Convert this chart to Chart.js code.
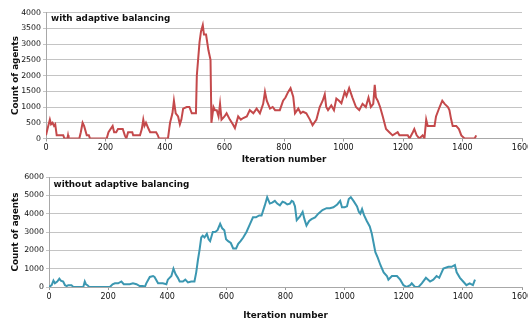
<!DOCTYPE html>
<html>
<head>
<meta charset="utf-8">
<script src="https://cdn.jsdelivr.net/npm/chart.js@4/dist/chart.umd.min.js"></script>
<style>
html,body{margin:0;padding:0;background:#fff;}
canvas{display:block;}
</style>
</head>
<body>
<canvas id="c1" width="528" height="165"></canvas>
<canvas id="c2" width="528" height="159"></canvas>
<script>
const xTicks = [0, 200, 400, 600, 800, 1000, 1200, 1400, 1600];
const yTicksTop = [0, 500, 1000, 1500, 2000, 2500, 3000, 3500, 4000];
const yTicksBottom = [0, 1000, 2000, 3000, 4000, 5000, 6000];

const titleTop = "with adaptive balancing";
const titleBottom = "without adaptive balancing";
const xTitle = "Iteration number";
const yTitle = "Count of agents";

const withIter = [0,5,13,17,22,27,31,36,58,62,72,74,76,112,117,123,128,137,144,148,204,210,224,229,236,242,258,265,270,276,290,293,316,322,327,331,336,345,350,370,376,380,
410,417,425,430,436,444,450,455,461,473,482,490,504,507,516,521,527,531,538,546,553,556,563,568,574,580,585,590,600,607,618,628,635,646,655,663,675,685,697,708,719,730,736,742,753,762,770,786,797,805,814,822,831,837,848,856,864,875,887,896,909,920,930,937,942,948,959,968,976,985,993,1004,1010,1019,
1030,1042,1053,1064,1075,1084,1092,1100,1105,1109,1115,1123,1132,1143,1154,1165,1182,1188,1216,1222,1233,1238,1246,1255,1266,1272,1278,1283,1306,1311,1323,1332,1340,1351,1356,1362,1367,1379,1388,1396,1407,1441,1446];
const withVals = [100,300,600,450,500,400,450,100,100,0,0,100,0,0,200,500,400,100,100,0,0,200,400,200,200,300,300,100,0,200,200,100,100,300,600,400,500,300,200,200,100,0,
0,500,800,1200,800,700,450,600,950,1000,1000,800,800,2000,3050,3400,3600,3300,3300,2800,2500,500,1000,900,900,700,1100,600,700,800,600,450,330,700,600,650,700,900,800,950,800,1100,1480,1200,950,1000,900,900,1200,1300,1480,1600,1330,800,950,800,850,800,600,420,600,1000,1200,1400,1000,900,1050,900,1270,1200,1120,1480,1350,1600,
1300,1000,900,1100,1000,1300,1000,1100,1700,1300,1200,1000,700,300,200,100,200,100,100,0,200,300,100,0,100,0,600,400,400,700,1000,1200,1100,1000,900,600,400,400,300,100,0,0,100];

const withoutIter = [0,9,15,20,28,35,40,48,54,60,65,76,82,116,121,125,130,136,206,215,223,234,245,253,262,273,284,296,307,318,324,329,341,352,357,369,385,397,402,414,421,428,436,
442,453,461,470,481,492,498,504,509,515,520,526,534,540,545,554,562,570,579,586,593,599,606,615,623,633,640,648,657,668,679,690,700,711,719,730,738,747,755,764,772,781,790,798,806,815,821,826,832,838,849,858,864,871,880,888,900,911,925,939,950,962,975,985,991,1000,1008,1014,1021,1030,1042,1048,1053,1059,1066,1075,1085,1092,1098,1104,1112,1121,1132,1143,1148,1160,1177,1188,1199,1210,1222,1227,1238,1250,1261,1275,1289,1300,1311,1320,1334,1351,1362,1373,1379,1390,1401,1412,1423,1434,1441];
const withoutVals = [0,100,350,200,300,450,350,300,100,50,100,100,0,0,300,150,100,0,0,150,200,200,300,150,150,150,200,150,50,50,0,200,550,600,550,200,200,150,400,600,1000,700,500,
300,300,400,250,300,300,800,1500,2000,2700,2800,2700,2900,2600,2500,3000,3000,3100,3450,3200,3100,2600,2500,2400,2100,2100,2350,2500,2700,3000,3400,3800,3800,3900,3900,4450,4900,4550,4600,4700,4550,4450,4650,4600,4500,4550,4700,4650,4400,3650,3850,4100,3700,3350,3600,3700,3800,4000,4200,4300,4300,4350,4500,4700,4350,4350,4400,4800,4900,4700,4400,4100,4000,4250,3900,3600,3300,2900,2400,1900,1600,1200,800,600,400,600,600,400,100,0,100,200,0,0,200,500,300,400,600,500,1000,1100,1100,1200,800,500,300,100,200,100,400];

const FONT = '"DejaVu Sans", sans-serif';
const GRID = '#c4c4c4';

const innerTitle = {
  id: 'innerTitle',
  afterDraw(chart, args, opts) {
    const ctx = chart.ctx;
    ctx.save();
    ctx.font = 'bold 8.8px ' + FONT;
    ctx.fillStyle = '#111';
    ctx.textBaseline = 'middle';
    ctx.textAlign = 'left';
    ctx.fillText(opts.text, chart.chartArea.left + opts.dx, chart.chartArea.top + opts.dy);
    ctx.restore();
  }
};

const plain = (v) => String(v);

function makeChart(id, iters, vals, color, yTickVals, title, cfg) {
  const pts = iters.map((x, i) => ({x: x, y: vals[i]}));
  return new Chart(document.getElementById(id), {
    type: 'line',
    data: { datasets: [{ data: pts, borderColor: color, borderWidth: 2, pointRadius: 0, tension: 0, fill: false }] },
    plugins: [innerTitle],
    options: {
      responsive: false,
      animation: false,
      devicePixelRatio: 1,
      layout: { padding: { top: cfg.top, right: 6, left: 0, bottom: cfg.bottomPad } },
      plugins: {
        legend: { display: false },
        tooltip: { enabled: false },
        innerTitle: { text: title, dx: cfg.tdx, dy: cfg.tdy }
      },
      scales: {
        x: {
          type: 'linear',
          min: xTicks[0], max: xTicks[xTicks.length - 1],
          afterBuildTicks: (s) => { s.ticks = xTicks.map(v => ({value: v})); },
          ticks: { font: { family: FONT, size: 8 }, color: '#111', maxRotation: 0, padding: 2, autoSkip: false, callback: plain },
          grid: { display: true, drawOnChartArea: false, drawTicks: true, tickLength: 3, color: '#9a9a9a' },
          border: { display: true, color: '#a8a8a8' },
          title: { display: true, text: xTitle, font: { family: FONT, size: 8.8, weight: 'bold' }, color: '#111', padding: { top: 0, bottom: cfg.xtb } },
          afterFit: (s) => { s.height = cfg.xh; s.paddingLeft = 0; s.paddingRight = 0; }
        },
        y: {
          min: yTickVals[0], max: yTickVals[yTickVals.length - 1],
          afterBuildTicks: (s) => { s.ticks = yTickVals.map(v => ({value: v})); },
          ticks: { font: { family: FONT, size: 7.8 }, color: '#111', padding: 2, callback: plain },
          grid: { color: GRID, tickLength: 3, lineWidth: 1 },
          border: { display: true, color: '#a8a8a8' },
          title: { display: true, text: yTitle, font: { family: FONT, size: 8.8, weight: 'bold' }, color: '#111', padding: { top: 10.7, bottom: 0 } },
          afterFit: (s) => { s.width = cfg.yw; s.paddingTop = 0; s.paddingBottom = 0; }
        }
      }
    }
  });
}

makeChart('c1', withIter, withVals, '#c4494b', yTicksTop, titleTop,
  { top: 12.5, bottomPad: 0, xh: 26.5, yw: 46, xtb: 0, tdx: 5, tdy: 6.5 });
makeChart('c2', withoutIter, withoutVals, '#3b97b1', yTicksBottom, titleBottom,
  { top: 12, bottomPad: 0, xh: 37, yw: 49, xtb: 3.5, tdx: 4.5, tdy: 8 });
</script>
</body>
</html>
